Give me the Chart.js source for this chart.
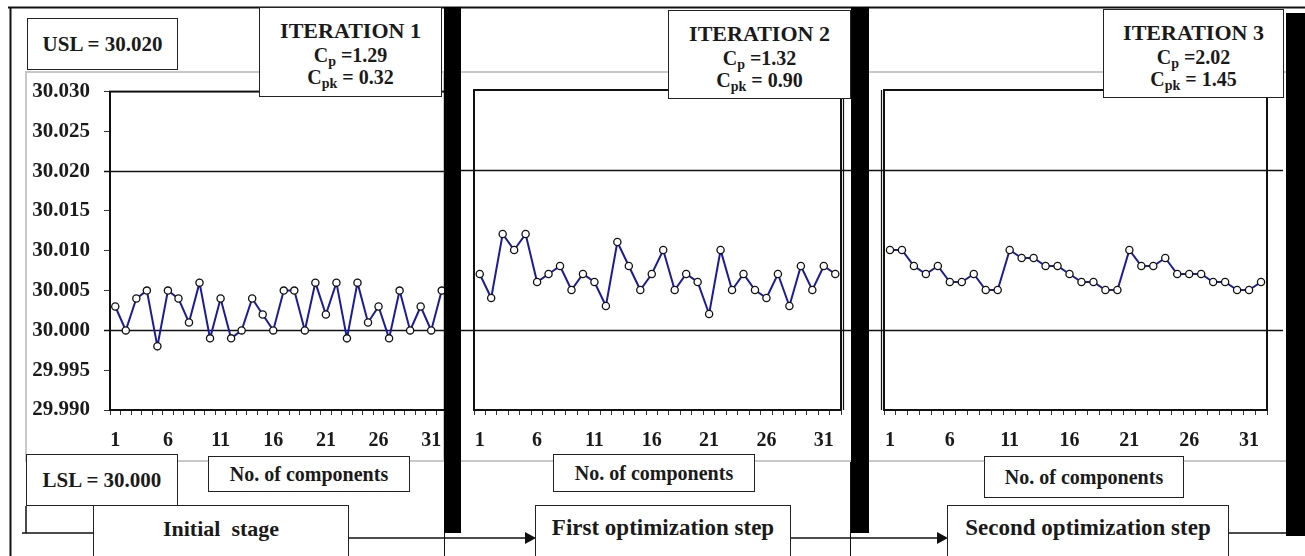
<!DOCTYPE html>
<html>
<head>
<meta charset="utf-8">
<script src="https://cdn.jsdelivr.net/npm/chart.js@4.4.1/dist/chart.umd.min.js"></script>
<style>
  body { margin: 0; background: #fff; width: 1305px; height: 556px; overflow: hidden; position: relative;
         font-family: "Liberation Serif", "Times New Roman", serif; font-weight: bold; color: #1a1a1a; }
  .area { position: absolute; border: 2px solid #c8c8c8; box-sizing: border-box; }
  .cv { position: absolute; }
  .box { position: absolute; background: #fff; border: 1.5px solid #222; box-sizing: border-box;
         display: flex; align-items: center; justify-content: center; white-space: nowrap; }
  .iter { position: absolute; background: #fff; border: 1.5px solid #222; box-sizing: border-box;
          text-align: center; padding-top: 10px; }
  .iter .t { font-size: 22px; line-height: 26px; }
  .iter .c { font-size: 20px; line-height: 22px; }
  .iter sub { font-size: 14px; vertical-align: -4px; line-height: 0; }
  .bar { position: absolute; background: #000; }
  svg { position: absolute; left: 0; top: 0; }
</style>
</head>
<body>

<div class="area" style="left:25px;top:71px;width:420px;height:391px"></div>
<div class="area" style="left:459px;top:71px;width:394px;height:391px"></div>
<div class="area" style="left:867px;top:71px;width:421px;height:391px"></div>

<canvas id="c1" class="cv" width="457" height="395" style="left:0;top:65px"></canvas>
<canvas id="c2" class="cv" width="410" height="384" style="left:447px;top:76px"></canvas>
<canvas id="c3" class="cv" width="429" height="384" style="left:857px;top:76px"></canvas>

<svg width="1305" height="556">
  <g stroke="#111" fill="none">
    <path d="M8 7.5 H1305" stroke-width="2"/>
    <path d="M10.5 7 V556" stroke-width="2"/>
    <path d="M26 506 V533 M22 533 H93" stroke-width="1.5"/>
    <path d="M349 538 H527" stroke-width="1.5"/>
    <path d="M791 538 H939" stroke-width="1.5"/>
    <path d="M1229 533 H1287" stroke-width="1.5"/>
    <path d="M850.5 462 V556 M444.5 533 V556" stroke-width="1"/>
  </g>
  <polygon points="525,532 536,538 525,544" fill="#111"/>
  <polygon points="937,532 948,538 937,544" fill="#111"/>
</svg>

<div class="box" style="left:27px;top:18px;width:151px;height:52px;font-size:21px">USL = 30.020</div>
<div class="box" style="left:26px;top:454px;width:152px;height:52px;font-size:21px">LSL = 30.000</div>

<div class="iter" style="left:259px;top:7px;width:183px;height:90px">
  <div class="t">ITERATION 1</div>
  <div class="c">C<sub>p</sub> =1.29</div>
  <div class="c">C<sub>pk</sub> = 0.32</div>
</div>
<div class="iter" style="left:668px;top:10px;width:183px;height:89px">
  <div class="t">ITERATION 2</div>
  <div class="c">C<sub>p</sub> =1.32</div>
  <div class="c">C<sub>pk</sub> = 0.90</div>
</div>
<div class="iter" style="left:1103px;top:9px;width:181px;height:89px">
  <div class="t">ITERATION 3</div>
  <div class="c">C<sub>p</sub> =2.02</div>
  <div class="c">C<sub>pk</sub> = 1.45</div>
</div>

<div class="box" style="left:208px;top:456px;width:202px;height:36px;font-size:20px">No. of components</div>
<div class="box" style="left:553px;top:454px;width:202px;height:38px;font-size:20px">No. of components</div>
<div class="box" style="left:984px;top:456px;width:200px;height:42px;font-size:20px">No. of components</div>

<div class="box" style="left:93px;top:505px;width:256px;height:60px;font-size:22px;align-items:flex-start;padding-top:10px">Initial&nbsp; stage</div>
<div class="box" style="left:535px;top:505px;width:256px;height:60px;font-size:23px;align-items:flex-start;padding-top:9px">First optimization step</div>
<div class="box" style="left:947px;top:505px;width:282px;height:60px;font-size:23px;align-items:flex-start;padding-top:9px">Second optimization step</div>

<div class="bar" style="left:444px;top:7px;width:17px;height:526px"></div>
<div class="bar" style="left:851px;top:7px;width:18px;height:526px"></div>
<div class="bar" style="left:1286px;top:13px;width:19px;height:523px"></div>

<script>
// component number 1..32 on each panel
const components = Array.from({ length: 32 }, (_, i) => String(i + 1));

const USL = 30.020;
const LSL = 30.000;

const yTicks = [29.990, 29.995, 30.000, 30.005, 30.010, 30.015, 30.020, 30.025, 30.030];

// values
const initialStage = [
  30.003, 30.000, 30.004, 30.005, 29.998, 30.005, 30.004, 30.001, 30.006, 29.999,
  30.004, 29.999, 30.000, 30.004, 30.002, 30.000, 30.005, 30.005, 30.000, 30.006,
  30.002, 30.006, 29.999, 30.006, 30.001, 30.003, 29.999, 30.005, 30.000, 30.003,
  30.000, 30.005,
];
const firstStep = [
  30.007, 30.004, 30.012, 30.010, 30.012, 30.006, 30.007, 30.008, 30.005, 30.007,
  30.006, 30.003, 30.011, 30.008, 30.005, 30.007, 30.010, 30.005, 30.007, 30.006,
  30.002, 30.010, 30.005, 30.007, 30.005, 30.004, 30.007, 30.003, 30.008, 30.005,
  30.008, 30.007,
];
const secondStep = [
  30.010, 30.010, 30.008, 30.007, 30.008, 30.006, 30.006, 30.007, 30.005, 30.005,
  30.010, 30.009, 30.009, 30.008, 30.008, 30.007, 30.006, 30.006, 30.005, 30.005,
  30.010, 30.008, 30.008, 30.009, 30.007, 30.007, 30.007, 30.006, 30.006, 30.005,
  30.005, 30.006,
];

const FONT = { family: '"Liberation Serif", "Times New Roman", serif', weight: 'bold', size: 20 };

// limit lines + plot frame
const framePlugin = {
  id: 'frame',
  beforeDatasetsDraw(chart, args, opts) {
    const { ctx, chartArea: a, scales: { y } } = chart;
    ctx.save();
    ctx.strokeStyle = '#111';
    ctx.lineWidth = 1.5;
    const x0 = opts.fromArea ? a.left - 6 : 0;
    const x1 = chart.width - (opts.trim || 0);
    for (const v of [USL, LSL]) {
      const py = Math.round(y.getPixelForValue(v)) + 0.5;
      ctx.beginPath(); ctx.moveTo(x0, py); ctx.lineTo(x1, py); ctx.stroke();
    }
    ctx.lineWidth = 2;
    ctx.strokeRect(a.left, a.top, a.right - a.left, a.bottom - a.top);
    if (opts.edge) {
      ctx.lineWidth = 1.2;
      const ex = opts.edge === 'right' ? a.right + 2.5 : a.left - 2.5;
      ctx.beginPath(); ctx.moveTo(ex, a.top); ctx.lineTo(ex, a.bottom); ctx.stroke();
    }
    ctx.restore();
  },
};

function makePanel(id, values, showY, padding, frame) {
  new Chart(document.getElementById(id), {
    type: 'line',
    data: {
      labels: components,
      datasets: [{
        data: values,
        borderColor: '#1c1c96',
        borderWidth: 2,
        tension: 0,
        pointRadius: 3.6,
        pointBackgroundColor: '#fff',
        pointBorderColor: '#111',
        pointBorderWidth: 1.3,
      }],
    },
    options: {
      responsive: false,
      animation: false,
      layout: { padding },
      plugins: { legend: { display: false }, tooltip: { enabled: false }, frame },
      scales: {
        x: {
          offset: true,
          border: { display: false },
          grid: { offset: true, drawOnChartArea: false, tickLength: 5, color: '#333' },
          ticks: {
            autoSkip: false, maxRotation: 0, padding: 14, color: '#1a1a1a', font: FONT,
            callback: (v, i) => (i % 5 === 0 ? components[i] : ''),
          },
          afterFit: s => { s.height = 50; },
        },
        y: {
          display: showY,
          min: 29.99,
          max: 30.03,
          afterBuildTicks: s => { s.ticks = yTicks.map(v => ({ value: v })); },
          border: { display: false },
          grid: { drawOnChartArea: false, tickLength: 6, color: '#333' },
          ticks: { padding: 14, color: '#1a1a1a', font: { ...FONT, size: 21 }, callback: v => v.toFixed(3) },
          afterFit: showY ? s => { s.width = 110; } : undefined,
        },
      },
    },
    plugins: [framePlugin],
  });
}

makePanel('c1', initialStage, true,  { top: 25, left: 0,  right: 10, bottom: 0 }, { fromArea: true });
makePanel('c2', firstStep,    false, { top: 14, left: 27, right: 16, bottom: 0 }, { edge: 'right' });
makePanel('c3', secondStep,   false, { top: 14, left: 27, right: 19, bottom: 0 }, { edge: 'left', trim: 3 });
</script>
</body>
</html>
